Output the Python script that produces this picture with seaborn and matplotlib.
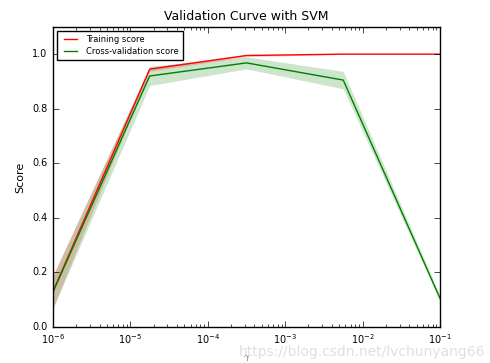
import numpy as np
import pandas as pd
import matplotlib
matplotlib.use("Agg")
import matplotlib.pyplot as plt
import seaborn as sns

param_range = [1e-6, 1.778e-5, 3.162e-4, 5.623e-3, 1e-1]
train_mean = [0.13, 0.945, 0.995, 1.0, 1.0]
train_std = [0.06, 0.008, 0.004, 0.001, 0.0]
test_mean = [0.128, 0.92, 0.968, 0.905, 0.105]
test_std = [0.06, 0.035, 0.022, 0.032, 0.01]

plt.style.use("classic")
plt.rcParams["font.family"] = ["DejaVu Sans"]
plt.rcParams["figure.facecolor"] = "white"

fig = plt.figure(figsize=(4.9, 3.63), dpi=100)
ax = fig.add_axes([0.108, 0.099, 0.79, 0.827])

df_train = pd.DataFrame({"gamma": param_range, "score": train_mean})
df_test = pd.DataFrame({"gamma": param_range, "score": test_mean})

sns.lineplot(data=df_train, x="gamma", y="score", ax=ax, color="r",
             lw=1, label="Training score")
ax.fill_between(param_range, np.array(train_mean) - np.array(train_std),
                np.array(train_mean) + np.array(train_std), alpha=0.2, color="r", lw=0)
sns.lineplot(data=df_test, x="gamma", y="score", ax=ax, color="g",
             lw=1, label="Cross-validation score")
ax.fill_between(param_range, np.array(test_mean) - np.array(test_std),
                np.array(test_mean) + np.array(test_std), alpha=0.2, color="g", lw=0)

ax.set_xscale("log")
ax.set_xlim(1e-6, 1e-1)
ax.set_ylim(0.0, 1.1)
ax.set_yticks([0.0, 0.2, 0.4, 0.6, 0.8, 1.0])
ax.set_title("Validation Curve with SVM", fontsize=9)
ax.set_xlabel(r"$\gamma$", fontsize=7)
ax.set_ylabel("Score", fontsize=8)
ax.tick_params(labelsize=7)
leg = ax.legend(loc="best", fontsize=6, handlelength=2.2, borderpad=0.5, labelspacing=0.3)

fig.text(0.99, 0.01, "https://blog.csdn.net/lvchunyang66", ha="right", va="bottom",
         fontsize=10, color="#e0e0e0")

fig.savefig("out.png", dpi=100, facecolor="white")
